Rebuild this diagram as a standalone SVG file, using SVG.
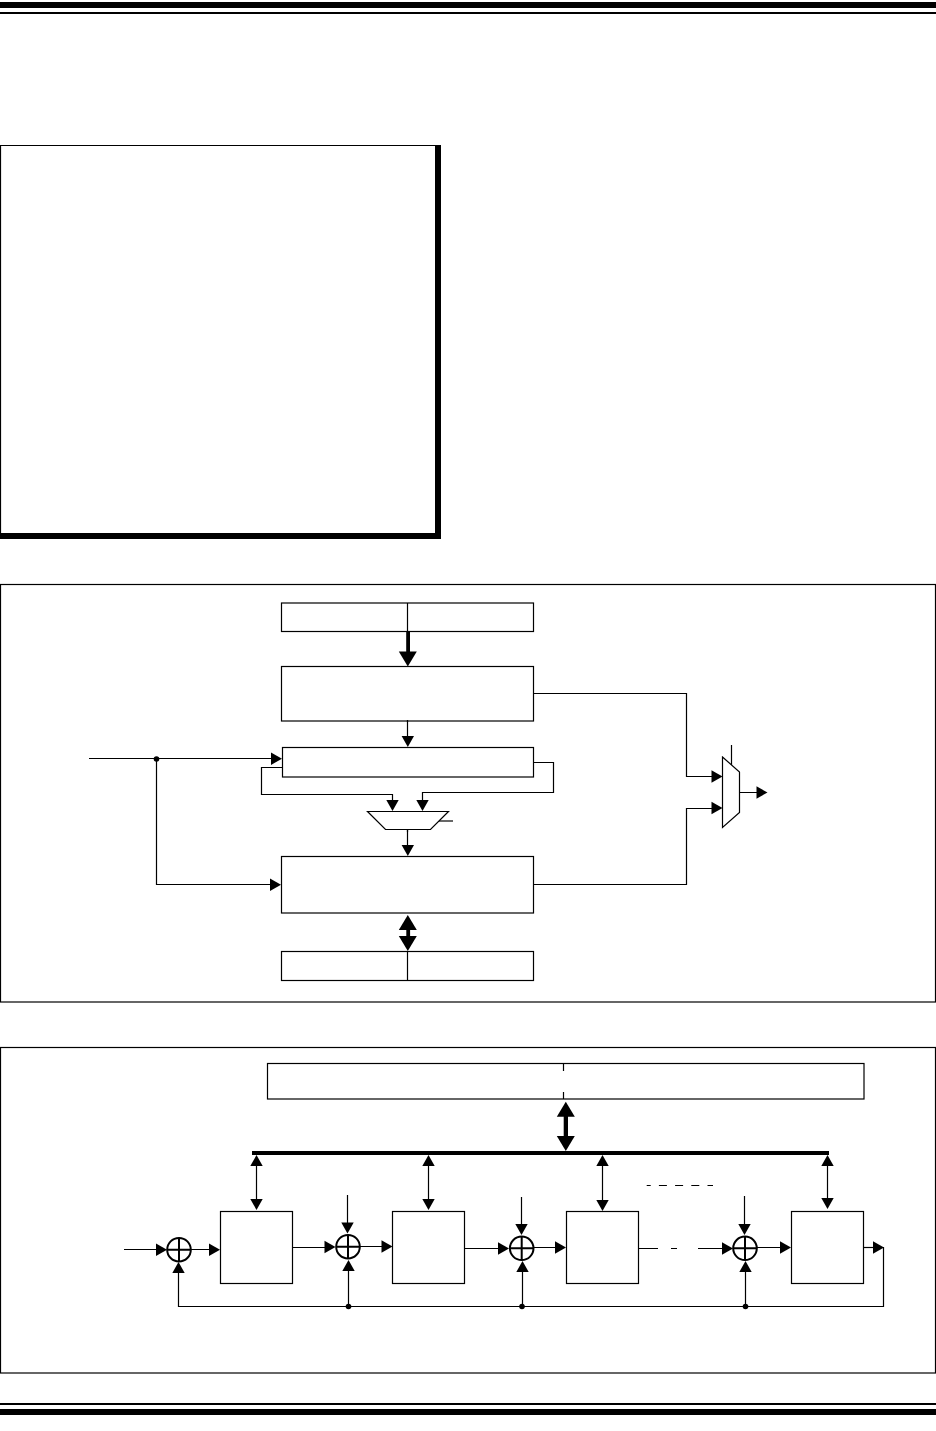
<svg xmlns="http://www.w3.org/2000/svg" width="936" height="1431" viewBox="0 0 936 1431">
<style>
.l{fill:none;stroke:#000;stroke-width:1.2}
.b{fill:#fff;stroke:#000;stroke-width:1.2}
.k{fill:#000}
</style>
<defs>
<path id="aR" class="k" d="M-11,-6.200L0,0L-11,6.200Z"/>
<path id="aD" class="k" d="M-6.200,-11L0,0L6.200,-11Z"/>
<path id="aU" class="k" d="M-6.200,11L0,0L6.200,11Z"/>
<path id="AD" class="k" d="M-9,-15L0,0L9,-15Z"/>
<path id="AU" class="k" d="M-9,15L0,0L9,15Z"/>
<g id="xor"><circle r="11.800" fill="#fff" stroke="#000" stroke-width="2"/><path d="M-12,0H12M0,-12V12" stroke="#000" stroke-width="2"/></g>
</defs>
<rect x="0" y="2" width="936" height="6" class="k"/>
<rect x="0" y="12" width="936" height="2" class="k"/>
<rect x="0" y="1403" width="936" height="2" class="k"/>
<rect x="0" y="1409" width="936" height="6" class="k"/>
<g id="note">
<path class="l" d="M.5,145.500H441M.5,145V539"/>
<path class="k" d="M435,146H441V539H0V533H435Z"/>
</g>
<g id="frame-a"><rect x=".5" y="584.500" width="935" height="417.500" class="l"/></g>
<g id="frame-b"><rect x=".5" y="1047.500" width="935" height="325.500" class="l"/></g>
<g id="connectors">
<rect x="406.200" y="631" width="3.800" height="21" class="k"/>
<use href="#AD" x="407.800" y="666.500"/>
<path class="l" d="M407.500,720V738"/><use href="#aD" x="407.800" y="747"/>
<path class="l" d="M89,758.500H274M156.500,758.500V884.500H272"/><use href="#aR" x="282" y="758.700"/><use href="#aR" x="281" y="884.700"/>
<circle cx="156.500" cy="759" r="2.800" class="k"/>
<path class="l" d="M282,767.500H261.500V794.500H392.500V802M533,762.500H553.500V792.500H422.500V802"/>
<use href="#aD" x="392.500" y="811"/><use href="#aD" x="422.500" y="811"/>
<path class="l" d="M407.500,829V848"/><use href="#aD" x="407.800" y="856"/>
<path class="l" d="M438,821H453"/>
<rect x="406.300" y="929" width="3.800" height="8" class="k"/>
<use href="#AU" x="407.800" y="915"/><use href="#AD" x="407.800" y="951"/>
<path class="l" d="M533,693.500H686.500V776.500H714M533,884.500H686.500V808.500H714"/>
<use href="#aR" x="722.500" y="776.500"/><use href="#aR" x="722.500" y="808"/>
<path class="l" d="M731.500,745V765M740,792.500H760"/><use href="#aR" x="767.500" y="792.500"/>
<rect x="563.700" y="1116" width="4.300" height="21" class="k"/>
<use href="#AU" x="565.800" y="1101.700"/><use href="#AD" x="565.800" y="1151"/>
<rect x="252" y="1151" width="577" height="4" class="k"/>
<path class="l" d="M256.500,1160V1205"/><use href="#aU" x="256.500" y="1155"/><use href="#aD" x="256.500" y="1210"/>
<path class="l" d="M428.500,1160V1205"/><use href="#aU" x="428.500" y="1155"/><use href="#aD" x="428.500" y="1210"/>
<path class="l" d="M602.500,1160V1205"/><use href="#aU" x="602.500" y="1155"/><use href="#aD" x="602.500" y="1211"/>
<path class="l" d="M827.500,1160V1203"/><use href="#aU" x="827.500" y="1155"/><use href="#aD" x="827.500" y="1209"/>
<path class="l" d="M124,1249.500H160M190,1249.500H214"/><use href="#aR" x="167" y="1249.700"/><use href="#aR" x="220" y="1249.700"/>
<path class="l" d="M293,1247.500H330M360,1246.500H386"/><use href="#aR" x="335.500" y="1247"/><use href="#aR" x="392.500" y="1246.500"/>
<path class="l" d="M465,1248.500H503M534,1247.500H560"/><use href="#aR" x="509" y="1248.500"/><use href="#aR" x="566" y="1247.500"/>
<path class="l" d="M639,1248.500H658M671,1248.500H677M698,1248.500H727M757,1247.500H785"/><use href="#aR" x="733" y="1248.500"/><use href="#aR" x="791" y="1247.500"/>
<path class="l" d="M864,1247.500H876" stroke="#777"/><use href="#aR" x="884" y="1247.500"/>
<path class="l" d="M347.500,1195V1228"/><use href="#aD" x="347.500" y="1233.500"/>
<path class="l" d="M521.500,1197V1229"/><use href="#aD" x="521.500" y="1235"/>
<path class="l" d="M744.500,1196V1229"/><use href="#aD" x="744.500" y="1235"/>
<path class="l" d="M883.500,1247V1306.500H178.500V1268"/><use href="#aU" x="178.500" y="1262"/>
<path class="l" d="M348.500,1306V1266M522.500,1306V1267M745.500,1306V1267"/>
<use href="#aU" x="348.500" y="1260"/><use href="#aU" x="522.500" y="1261"/><use href="#aU" x="745.500" y="1261"/>
<circle cx="348.500" cy="1306.500" r="2.800" class="k"/><circle cx="522" cy="1306.500" r="2.800" class="k"/><circle cx="745.500" cy="1306.500" r="2.800" class="k"/>
<path class="l" d="M646.700,1185.500H713" stroke-dasharray="8 8.200" stroke-dashoffset="4"/>
</g>
<g id="n1"><rect x="281.500" y="603" width="252" height="28.500" class="b"/><path class="l" d="M407.500,603V631"/></g>
<g id="n2"><rect x="281.500" y="666.500" width="252" height="54.500" class="b"/><path class="l" d="M407.500,720V722"/></g>
<g id="n3"><rect x="282.500" y="747.500" width="251" height="29.500" class="b"/></g>
<g id="mux1"><path class="b" d="M367.500,811.500H448.500L430.500,829.500H385.500Z"/><path class="l" d="M407.500,829V832"/></g>
<g id="n4"><rect x="281.500" y="856.500" width="252" height="56.500" class="b"/></g>
<g id="n5"><rect x="281.500" y="951.500" width="252" height="29" class="b"/><path class="l" d="M407.500,952V980"/></g>
<g id="mux2"><path class="b" d="M722.500,757L739.500,772V812.500L722.500,827.500Z"/></g>
<g id="n6"><rect x="267.500" y="1063.500" width="596.500" height="35.500" class="b"/><path class="l" d="M563.500,1063V1071M563.500,1092V1099"/></g>
<g id="s1"><rect x="220.500" y="1211.500" width="72" height="72" class="b"/></g>
<g id="s2"><rect x="392.500" y="1211.500" width="72" height="72" class="b"/></g>
<g id="s3"><rect x="566.500" y="1211.500" width="72" height="72" class="b"/></g>
<g id="s4"><rect x="791.500" y="1211.500" width="72" height="72" class="b"/></g>
<g id="x1"><use href="#xor" x="179" y="1249.700"/></g>
<g id="x2"><use href="#xor" x="348" y="1246.700"/></g>
<g id="x3"><use href="#xor" x="521.700" y="1248.300"/></g>
<g id="x4"><use href="#xor" x="745" y="1248.300"/></g>
</svg>
